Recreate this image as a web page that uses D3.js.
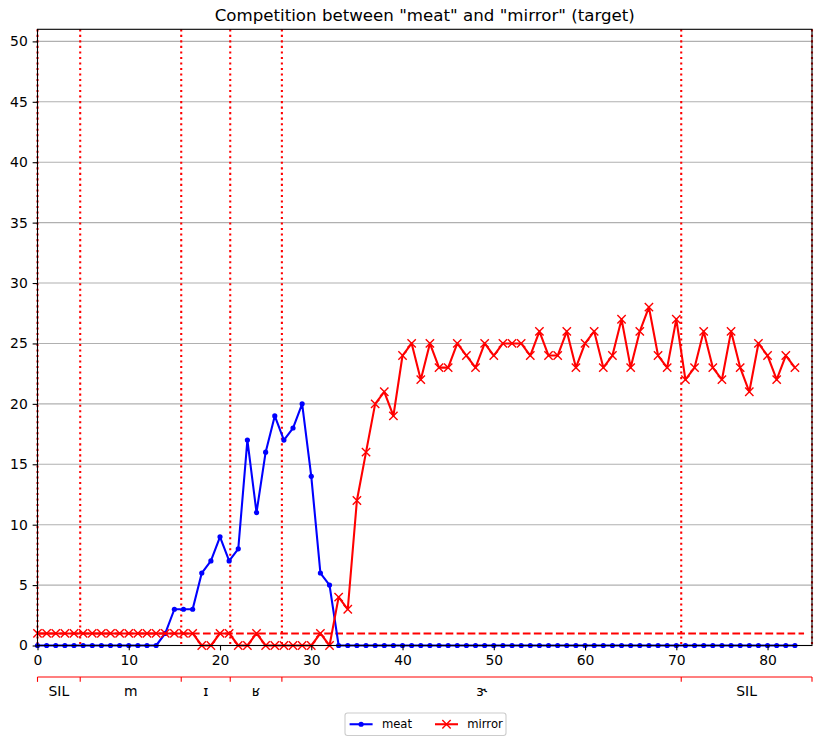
<!DOCTYPE html>
<html><head><meta charset="utf-8">
<script src="https://cdn.jsdelivr.net/npm/d3@7/dist/d3.min.js"></script>
<style>
body{margin:0;background:#fff}
text{font-family:"DejaVu Sans",sans-serif}
</style>
</head><body>
<svg id="c" width="825" height="745"></svg>
<script>
const title = 'Competition between "meat" and "mirror" (target)';
const meat = [0,0,0,0,0,0,0,0,0,0,0,0,0,0,1,3,3,3,6,7,9,7,8,17,11,16,19,17,18,20,14,6,5,
  0,0,0,0,0,0,0,0,0,0,0,0,0,0,0,0,0,0,0,0,0,0,0,0,0,0,0,0,0,0,0,0,0,0,0,0,0,0,0,0,0,0,0,0,0,0,0,0,0,0,0];
const mirror = [1,1,1,1,1,1,1,1,1,1,1,1,1,1,1,1,1,1,0,0,1,1,0,0,1,0,0,0,0,0,0,1,0,4,3,12,16,20,21,19,
  24,25,22,25,23,23,25,24,23,25,24,25,25,25,24,26,24,24,26,23,25,26,23,24,27,23,26,28,24,23,27,22,23,26,23,22,26,23,21,25,24,22,24,23];
const seriesNames = ["meat","mirror"];
const boundaries = [0,4.68,15.75,21.12,26.78,70.54,84.87];
const segLabels = ["SIL","m","ɪ","ʁ","ɝ","SIL"];
const threshold = 1;
const thresholdExtent = [0,84];
const xTicks = [0,10,20,30,40,50,60,70,80];
const yTicks = [0,5,10,15,20,25,30,35,40,45,50];
const xDomain = [0,84.87];
const yDomain = [0,51];

const svg = d3.select("#c");
const L=37.5, R=812, T=29.3, B=645.5;
const x = d3.scaleLinear().domain(xDomain).range([L,R]);
const y = d3.scaleLinear().domain(yDomain).range([B,T]);

// title
svg.append("text").attr("x",(L+R)/2).attr("y",21).attr("text-anchor","middle")
  .attr("font-size","16.67px").text(title);

// grid
svg.append("g").selectAll("line").data(yTicks).join("line")
  .attr("x1",L).attr("x2",R).attr("y1",d=>y(d)).attr("y2",d=>y(d))
  .attr("stroke","#b0b0b0").attr("stroke-width",1.1);

// vertical dotted boundaries
svg.append("g").selectAll("line").data(boundaries).join("line")
  .attr("x1",d=>x(d)).attr("x2",d=>x(d)).attr("y1",T).attr("y2",B)
  .attr("stroke","red").attr("stroke-width",2.08).attr("stroke-dasharray","2.08,3.44");

// threshold dashed
svg.append("line").attr("x1",x(thresholdExtent[0])).attr("x2",x(thresholdExtent[1]))
  .attr("y1",y(threshold)).attr("y2",y(threshold))
  .attr("stroke","red").attr("stroke-width",2.08).attr("stroke-dasharray","7.7,3.33");

const line = d3.line().x((d,i)=>x(i)).y(d=>y(d));
// meat
svg.append("path").datum(meat).attr("d",line).attr("fill","none")
  .attr("stroke","blue").attr("stroke-width",2.08).attr("stroke-linejoin","round");
svg.append("g").selectAll("circle").data(meat).join("circle")
  .attr("cx",(d,i)=>x(i)).attr("cy",d=>y(d)).attr("r",2.6).attr("fill","blue");
// mirror
svg.append("path").datum(mirror).attr("d",line).attr("fill","none")
  .attr("stroke","red").attr("stroke-width",2.08).attr("stroke-linejoin","round");
const s=4.17;
const xm = (cx,cy)=>`M${cx-s},${cy-s}L${cx+s},${cy+s}M${cx-s},${cy+s}L${cx+s},${cy-s}`;
svg.append("g").selectAll("path").data(mirror).join("path")
  .attr("d",(d,i)=>xm(x(i),y(d))).attr("stroke","red").attr("stroke-width",1.39).attr("fill","none");

// axes
const xa = svg.append("g").attr("transform",`translate(0,${B})`)
  .call(d3.axisBottom(x).tickValues(xTicks).tickSize(4.86).tickPadding(4.86).tickFormat(d3.format("d")));
const ya = svg.append("g").attr("transform",`translate(${L},0)`)
  .call(d3.axisLeft(y).tickValues(yTicks).tickSize(4.86).tickPadding(4.86).tickFormat(d3.format("d")));
[xa,ya].forEach(a=>{
  a.select(".domain").remove();
  a.selectAll(".tick line").attr("stroke","#000").attr("stroke-width",1.1);
  a.selectAll(".tick text").attr("font-family","DejaVu Sans").attr("font-size","13.9px").attr("fill","#000");
});
// spines
svg.append("rect").attr("x",L).attr("y",T).attr("width",R-L).attr("height",B-T)
  .attr("fill","none").attr("stroke","#000").attr("stroke-width",1.1);

// segment bracket
const bY = 677;
svg.append("line").attr("x1",x(boundaries[0])).attr("x2",x(boundaries[boundaries.length-1]))
  .attr("y1",bY).attr("y2",bY).attr("stroke","red").attr("stroke-width",1.1);
svg.append("g").selectAll("line").data(boundaries).join("line")
  .attr("x1",d=>x(d)).attr("x2",d=>x(d)).attr("y1",bY).attr("y2",bY+4.86)
  .attr("stroke","red").attr("stroke-width",1.1);
svg.append("g").selectAll("text").data(segLabels).join("text")
  .attr("x",(d,i)=>(x(boundaries[i])+x(boundaries[i+1]))/2).attr("y",696)
  .attr("text-anchor","middle").attr("font-size","13.9px").text(d=>d);

// legend
const fs=11.6;
const lg = svg.append("g");
const lx=345, ly=713, lw=161, lh=22.5;
lg.append("rect").attr("x",lx).attr("y",ly).attr("width",lw).attr("height",lh).attr("rx",2.5)
  .attr("fill","#fff").attr("fill-opacity",0.8).attr("stroke","#cccccc").attr("stroke-width",1.1);
const cy = ly+lh/2;
const items = [{name:seriesNames[0],c:"blue",h0:349.6,t:381.9},{name:seriesNames[1],c:"red",h0:435,t:467.3}];
items.forEach((it,k)=>{
  lg.append("line").attr("x1",it.h0).attr("x2",it.h0+23).attr("y1",cy).attr("y2",cy)
    .attr("stroke",it.c).attr("stroke-width",2.08);
  const mx = it.h0+11.5;
  if(k===0) lg.append("circle").attr("cx",mx).attr("cy",cy).attr("r",2.6).attr("fill","blue");
  else lg.append("path").attr("d",xm(mx,cy)).attr("stroke","red").attr("stroke-width",1.39);
  lg.append("text").attr("x",it.t).attr("y",cy+4.2).attr("font-size",fs+"px").text(it.name);
});
</script>
</body></html>
